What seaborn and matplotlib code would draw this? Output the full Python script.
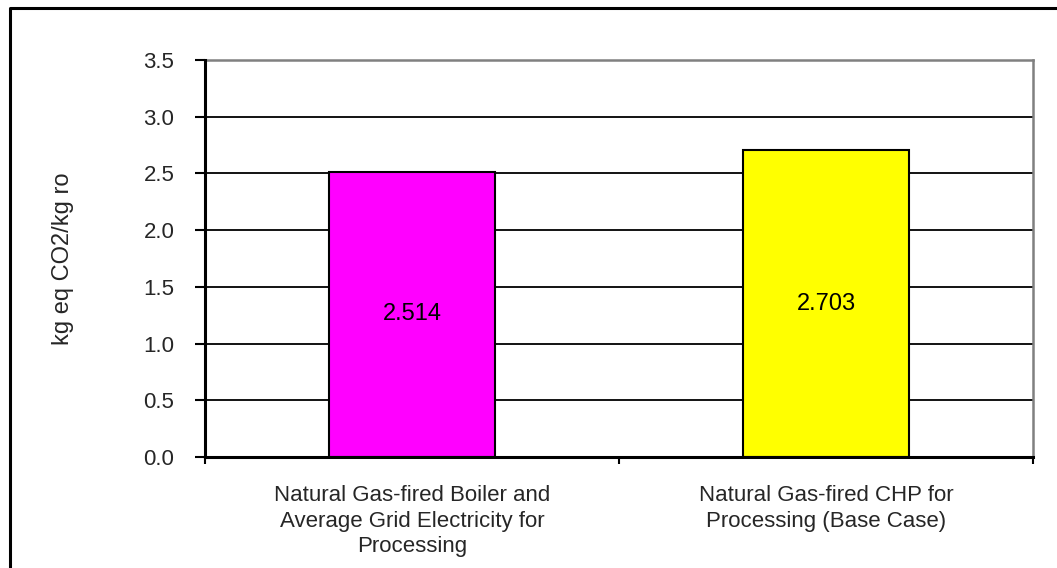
import matplotlib
matplotlib.use("Agg")
import matplotlib.pyplot as plt
from matplotlib.lines import Line2D
import seaborn as sns
import pandas as pd

categories = [
    "Natural Gas-fired Boiler and\nAverage Grid Electricity for\nProcessing",
    "Natural Gas-fired CHP for\nProcessing (Base Case)",
]
values = [2.514, 2.703]
value_labels = ["2.514", "2.703"]
bar_colors = ["#FF00FF", "#FFFF00"]
y_ticks = [0.0, 0.5, 1.0, 1.5, 2.0, 2.5, 3.0, 3.5]
y_label = "kg eq CO2/kg ro"

sns.set_theme(style="white")
plt.rcParams["font.family"] = ["Liberation Sans", "DejaVu Sans"]

fig = plt.figure(figsize=(10.57, 5.68), dpi=100)
ax = fig.add_axes([205 / 1057, 1 - 457 / 568, (1033 - 205) / 1057, (457 - 60) / 568])

df = pd.DataFrame({"cat": categories, "val": values})
sns.barplot(data=df, x="cat", y="val", hue="cat", palette=bar_colors,
            saturation=1, width=0.4, edgecolor="black", linewidth=1.5,
            legend=False, ax=ax, zorder=3)

# horizontal gridlines
for t in y_ticks[1:-1]:
    ax.axhline(t, color="black", linewidth=1.3, zorder=1)

ax.set_ylim(0, 3.5)
ax.set_yticks(y_ticks)
ax.set_yticklabels([f"{t:.1f}" for t in y_ticks], fontsize=16)
ax.set_xlim(-0.5, 1.5)
ax.set_xticks([-0.5, 0.5, 1.5])
ax.set_xticklabels([])
ax.set_xticks([0, 1], minor=True)
ax.set_xticklabels(categories, minor=True, fontsize=16, linespacing=1.3)
ax.tick_params(axis="x", which="minor", length=0, pad=20)
ax.tick_params(axis="x", which="major", length=5, width=1.5, color="black", direction="out", bottom=True)
ax.tick_params(axis="y", length=7, width=1.5, color="black", direction="out", left=True, pad=15)
ax.set_xlabel("")
ax.set_ylabel(y_label, fontsize=17, labelpad=50)

for s in ["left", "bottom"]:
    ax.spines[s].set_color("black")
    ax.spines[s].set_linewidth(2.2)
    ax.spines[s].set_zorder(4)
for s in ["top", "right"]:
    ax.spines[s].set_color("#808080")
    ax.spines[s].set_linewidth(1.8)

for i, (v, lab) in enumerate(zip(values, value_labels)):
    ax.text(i, v / 2, lab, ha="center", va="center", fontsize=17, color="black", zorder=5)

# outer chart frame (left and top edges)
fig.add_artist(Line2D([10 / 1057, 10 / 1057, 1.0], [0.0, 1 - 8 / 568, 1 - 8 / 568],
                      transform=fig.transFigure, color="black", linewidth=2.2))

fig.savefig("out.png", dpi=100)
